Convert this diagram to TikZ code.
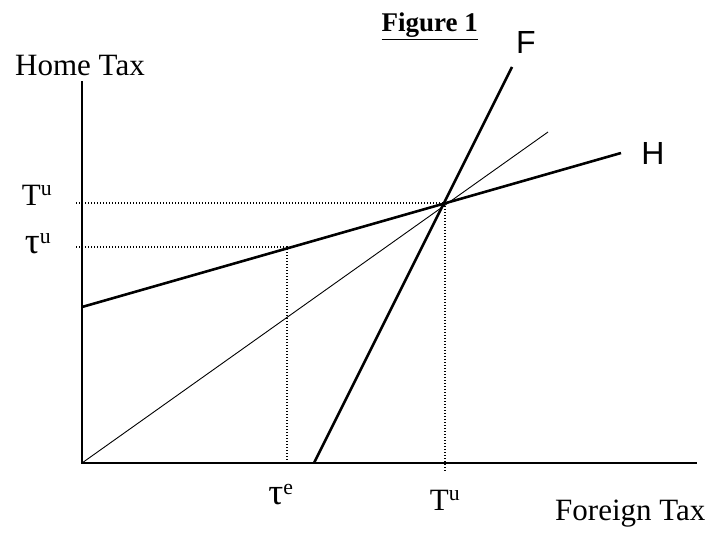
\documentclass[tikz,border=0pt]{standalone}
\usepackage{graphicx}
\usepackage{fontspec}
\setmainfont{Liberation Serif}
\newfontfamily\arialfont{Liberation Sans}
\usetikzlibrary{positioning}
\newcommand{\tautall}{\scalebox{1.2}{τ}}
\tikzset{
  tengely/.style={line width=2.6pt},
  egyenes/.style={line width=2.6pt},
  vekony/.style={line width=0.9pt},
  pontoz/.style={line width=1.3pt,dash pattern=on 1.3pt off 1.7pt},
  cimke/.style={font=\fontsize{31}{31}\selectfont,inner sep=0pt},
  betu/.style={font=\arialfont\fontsize{32}{32}\selectfont,inner sep=0pt},
}

\begin{document}
\begin{tikzpicture}[x=1pt,y=-1pt]
  \useasboundingbox (0,0) rectangle (712,535);
  % tengelyek
  \coordinate (O) at (82,463);
  \coordinate (ytop) at (82,81);
  \coordinate (xend) at (697,463);
  \draw[tengely] (ytop) -- (O) -- (xend);
  % egyenesek
  \coordinate (h0) at (82,307); \coordinate (h1) at (621,153);
  \coordinate (f0) at (314,463); \coordinate (f1) at (512,67);
  \coordinate (d1) at (548,132);
  \draw[egyenes] (h0) -- (h1);
  \draw[egyenes] (f0) -- (f1);
  \draw[vekony] (O) -- (d1);
  % pontozott vonalak
  \coordinate (E) at (445,203);
  \coordinate (Ey) at (76,203); \coordinate (Ex) at (445,471);
  \coordinate (te) at (287,247);
  \coordinate (tey) at (76,247); \coordinate (tex) at (287,461);
  \draw[pontoz] (Ey) -- (E) -- (Ex);
  \draw[pontoz] (tey) -- (te) -- (tex);
  % feliratok
  \node[font=\bfseries\fontsize{27}{27}\selectfont,inner sep=0pt,anchor=base east] (cim) at (478,32) {\underline{Figure 1}};
  \node[cimke,anchor=base west] (ytext) at (15,75) {Home Tax};
  \node[cimke,anchor=base west] (xtext) at (555,520) {Foreign Tax};
  \node[cimke,anchor=base] (Tuy) at (37,205) {T\textsuperscript{u}};
  \node[cimke,anchor=base] (tuy) at (38,253) {\tautall\textsuperscript{u}};
  \node[cimke,anchor=base] (tex-l) at (281,504) {\tautall\textsuperscript{e}};
  \node[cimke,anchor=base] (Tux) at (445,510) {T\textsuperscript{u}};
  \node[betu] (Fl) at (526,42) {F};
  \node[betu] (Hl) at (653,153) {H};
\end{tikzpicture}
\end{document}
